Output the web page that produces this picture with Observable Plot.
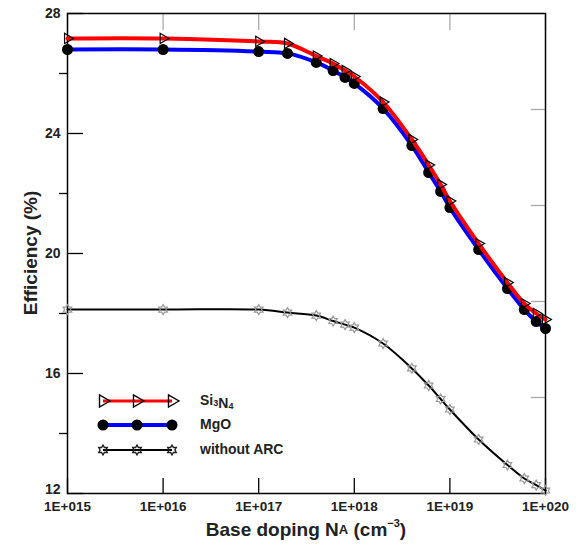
<!DOCTYPE html>
<html><head><meta charset="utf-8">
<script src="https://cdn.jsdelivr.net/npm/d3@7"></script>
<script src="https://cdn.jsdelivr.net/npm/@observablehq/plot@0.6"></script>
<style>body{margin:0;background:#fff} svg{display:block}</style>
</head><body><div id="chart"></div>
<script>
// ---- data ----
const doping = [1e15,1e16,1e17,2e17,4e17,6e17,8e17,1e18,2e18,4e18,6e18,8e18,1e19,2e19,4e19,6e19,8e19,1e20];
const effSi3N4 = [27.17,27.17,27.07,27.0,26.58,26.33,26.1,25.9,25.05,23.8,22.95,22.3,21.75,20.33,19.03,18.33,18.0,17.8];
const effMgO   = [26.8,26.8,26.73,26.67,26.37,26.1,25.87,25.67,24.83,23.6,22.7,22.07,21.53,20.13,18.83,18.13,17.73,17.5];
const effNoARC = [18.13,18.13,18.13,18.03,17.93,17.75,17.63,17.53,17.0,16.17,15.6,15.15,14.8,13.8,12.95,12.5,12.28,12.1];
const seriesNames = ["Si3N4", "MgO", "without ARC"];
const xTicks = [1e15,1e16,1e17,1e18,1e19,1e20];
const yLabeled = [12,16,20,24,28];
const yMinor = [14,18,22,26];
const yRightTicks = [15.2,18.4,21.6,24.8];

const rows = doping.map((x,i)=>({x, si:effSi3N4[i], mgo:effMgO[i], no:effNoARC[i]}));

// six-pointed star outline
const hexagram = {draw(ctx, size){
  const R = Math.sqrt(size/Math.PI)*1.1, r = R/Math.sqrt(3);
  for (let k=0;k<12;k++){
    const a = -Math.PI/2 + k*Math.PI/6, rr = k%2===0 ? R : r;
    const px = rr*Math.cos(a), py = rr*Math.sin(a);
    if (k===0) ctx.moveTo(px,py); else ctx.lineTo(px,py);
  }
  ctx.closePath();
}};

const font = "'Liberation Sans', Arial, sans-serif";
const W=581,H=546, mL=67, mR=36, mT=13, mB=53;

const plot = Plot.plot({
  width: W, height: H, marginLeft: mL, marginRight: mR, marginTop: mT, marginBottom: mB,
  x: {type:"log", domain:[1e15,1e20]},
  y: {domain:[12,28]},
  style: {fontFamily: font, background:"white", color:"#222"},
  marks: [
    Plot.axisX({ticks:xTicks, tickSize:0, tickPadding:8, label:null, fontSize:13.5, fontWeight:"bold",
      tickFormat: d => "1E+0" + Math.round(Math.log10(d))}),
    Plot.axisX({ticks:xTicks, tickSize:-15, tickFormat:()=>"", label:null, stroke:"black", strokeWidth:1.3}),
    Plot.axisX({anchor:"top", ticks:xTicks, tickSize:-16, tickFormat:()=>"", label:null, stroke:"#aaa", strokeWidth:1.3}),
    Plot.axisY({ticks:yLabeled.filter(d=>d!==12), tickSize:0, tickPadding:7, label:null, fontSize:14, fontWeight:"bold"}),
    Plot.axisY({ticks:[12], tickSize:0, tickPadding:7, dy:-4, label:null, fontSize:14, fontWeight:"bold"}),
    Plot.axisY({ticks:yLabeled, tickSize:-16, tickFormat:()=>"", label:null, stroke:"black", strokeWidth:1.3}),
    Plot.axisY({ticks:yMinor, tickSize:8, tickFormat:()=>"", label:null, stroke:"black", strokeWidth:1.3}),
    Plot.axisY({anchor:"right", ticks:yRightTicks, tickSize:-15, tickFormat:()=>"", label:null, stroke:"#aaa", strokeWidth:1.3}),
    Plot.frame({stroke:"black", strokeWidth:1.5}),
    Plot.line(rows, {x:"x", y:"no", stroke:"black", strokeWidth:2, curve:"catmull-rom"}),
    Plot.dot(rows, {x:"x", y:"no", symbol:hexagram, r:4.5, stroke:"#999", strokeWidth:1.2, fill:"none"}),
    Plot.line(rows, {x:"x", y:"mgo", stroke:"#0000ff", strokeWidth:4, curve:"catmull-rom"}),
    Plot.dot(rows, {x:"x", y:"mgo", r:5.5, fill:"black"}),
    Plot.line(rows, {x:"x", y:"si", stroke:"#ff0000", strokeWidth:4, curve:"catmull-rom"}),
    Plot.dot(rows, {x:"x", y:"si", symbol:"triangle", rotate:90, r:3.8, stroke:"black", strokeWidth:1.2, fill:"none"})
  ]
});
document.getElementById("chart").appendChild(plot);

// ---- titles and legend ----
const svg = d3.select(plot);
svg.append("text").attr("transform","translate(32,253) rotate(-90)")
  .attr("text-anchor","middle").attr("dominant-baseline","middle")
  .attr("font-family",font).attr("font-size",19).attr("font-weight","bold").attr("fill","#222")
  .text("Efficiency (%)");
const xt = svg.append("text").attr("x",(mL + W - mR)/2).attr("y",531)
  .attr("text-anchor","middle").attr("dominant-baseline","middle")
  .attr("font-family",font).attr("font-size",19).attr("font-weight","bold").attr("fill","#222");
xt.append("tspan").text("Base doping N");
xt.append("tspan").attr("font-size",13).text("A");
xt.append("tspan").text(" (cm");
xt.append("tspan").attr("font-size",11).attr("dy",-7).text("−3");
xt.append("tspan").attr("dy",7).text(")");

const legY = [401, 425, 450];
const legX = [103, 137, 172];
const legStyle = [
  {stroke:"#ff0000", w:3, sym:d3.symbolTriangle, size:Math.PI*4.5*4.5, fill:"none", sstroke:"black", rot:90},
  {stroke:"#0000ff", w:4, sym:d3.symbolCircle, size:Math.PI*5.5*5.5, fill:"black", sstroke:"none", rot:0},
  {stroke:"black", w:2, sym:hexagram, size:Math.PI*20, fill:"none", sstroke:"#222", rot:0}
];
const leg = svg.append("g");
seriesNames.forEach((name,i)=>{
  const s = legStyle[i], y = legY[i];
  leg.append("line").attr("x1",legX[0]).attr("x2",legX[2]).attr("y1",y).attr("y2",y)
    .attr("stroke",s.stroke).attr("stroke-width",s.w);
  legX.forEach(x=>{
    leg.append("path").attr("d", d3.symbol(s.sym, s.size)())
      .attr("transform",`translate(${x},${y}) rotate(${s.rot})`)
      .attr("fill",s.fill).attr("stroke",s.sstroke).attr("stroke-width",1.4);
  });
  const t = leg.append("text").attr("x",200).attr("y",y).attr("dominant-baseline","middle")
    .attr("text-anchor","start")
    .attr("font-family",font).attr("font-size",14).attr("font-weight","bold").attr("fill","#222");
  name.split(/(\d)/).filter(p=>p).forEach(p=>{
    if (/\d/.test(p)) { t.append("tspan").attr("font-size",9).attr("dy",3).text(p);
      t.append("tspan").attr("dy",-3).attr("font-size",14).text(""); }
    else t.append("tspan").text(p);
  });
});
</script></body></html>
